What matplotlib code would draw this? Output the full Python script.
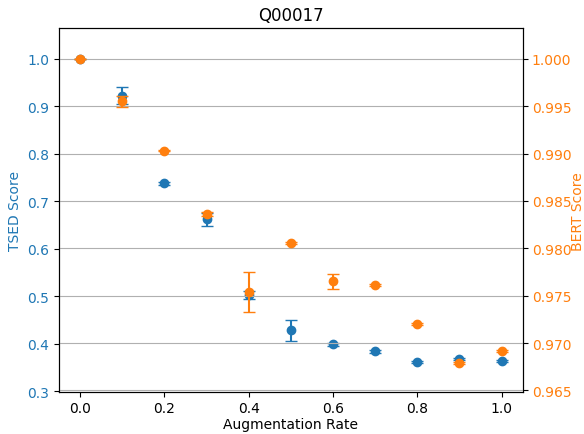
import numpy as np
import matplotlib
matplotlib.use("Agg")
from matplotlib import pyplot as plt

# augmentation rates and scores
rates = [0.0, 0.1, 0.2, 0.3, 0.4, 0.5, 0.6, 0.7, 0.8, 0.9, 1.0]
tsed = [1.0, 0.922, 0.738, 0.662, 0.503, 0.428, 0.399, 0.384, 0.361, 0.368, 0.364]
tsed_err = [0.0, 0.018, 0.003, 0.013, 0.008, 0.023, 0.003, 0.003, 0.002, 0.002, 0.002]
bert = [1.0, 0.99553, 0.99032, 0.98363, 0.97537, 0.98054, 0.97653, 0.97617, 0.97202, 0.96790, 0.96920]
bert_err = [0.0, 0.0006, 0.0001, 0.0002, 0.0021, 0.0001, 0.0008, 0.0001, 0.0001, 0.0001, 0.0001]

fig, ax1 = plt.subplots(figsize=(5.84, 4.35), dpi=100)
fig.subplots_adjust(left=0.101, right=0.895, top=0.933, bottom=0.096)

ax1.errorbar(rates, tsed, yerr=tsed_err, fmt="o", color="tab:blue", capsize=4)
ax1.set_xlabel("Augmentation Rate", labelpad=1.5)
ax1.set_ylabel("TSED Score", color="tab:blue")
ax1.tick_params(axis="y", labelcolor="tab:blue")
ax1.tick_params(axis="x", pad=3)
ax1.set_ylim(0.298, 1.0646)
ax1.set_xlim(-0.05, 1.05)

ax2 = ax1.twinx()
ax2.errorbar(rates, bert, yerr=bert_err, fmt="o", color="tab:orange", capsize=4)
ax2.set_ylabel("BERT Score", color="tab:orange", labelpad=0)
ax2.tick_params(axis="y", labelcolor="tab:orange", pad=3)
ax2.set_ylim(0.96481, 1.00324)
ax2.grid(axis="y")

plt.title("Q00017")
plt.savefig("out.png")
